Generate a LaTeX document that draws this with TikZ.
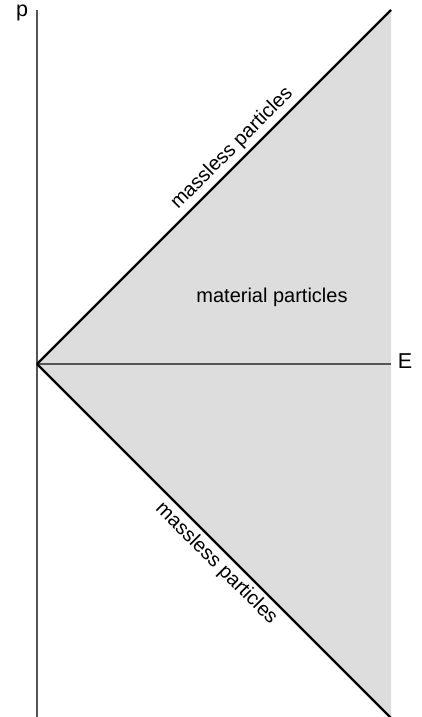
\documentclass[tikz,border=0pt]{standalone}
\usepackage{fontspec}
\setmainfont{Liberation Sans}
\definecolor{regiongray}{RGB}{221,221,221}
\definecolor{axisgray}{RGB}{85,85,85}
\begin{document}
\begin{tikzpicture}[x=1pt,y=1pt,
  axisline/.style={draw=axisgray,line width=1.5pt},
  coneline/.style={draw=black,line width=2.2pt},
  lbl/.style={font=\fontsize{20}{22}\selectfont,inner sep=0pt},
  axlbl/.style={font=\fontsize{21.5}{23}\selectfont,inner sep=0pt}]
\useasboundingbox (0,0) rectangle (422,717);
\coordinate (O) at (37,353);
\coordinate (U) at (391,707);
\coordinate (L) at (391,-1);
\coordinate (Hend) at (391,353);
\coordinate (Vtop) at (37,707);
\coordinate (Vbot) at (37,0);
\fill[regiongray] (O) -- (U) -- (L) -- cycle;
\draw[axisline] (Vbot) -- (Vtop);
\draw[axisline] (O) -- (Hend);
\draw[coneline] (O) -- node[lbl,sloped,anchor=south,pos=0.58,yshift=4pt] (um) {massless particles} (U);
\draw[coneline] (O) -- node[lbl,sloped,anchor=north,pos=0.535,yshift=-4pt] (lm) {massless particles} (L);
\node[lbl] (mat) at (272,420) {material particles};
\node[axlbl] (E) at (405,356) {E};
\node[axlbl] (p) at (22,704.5) {p};
\end{tikzpicture}
\end{document}
